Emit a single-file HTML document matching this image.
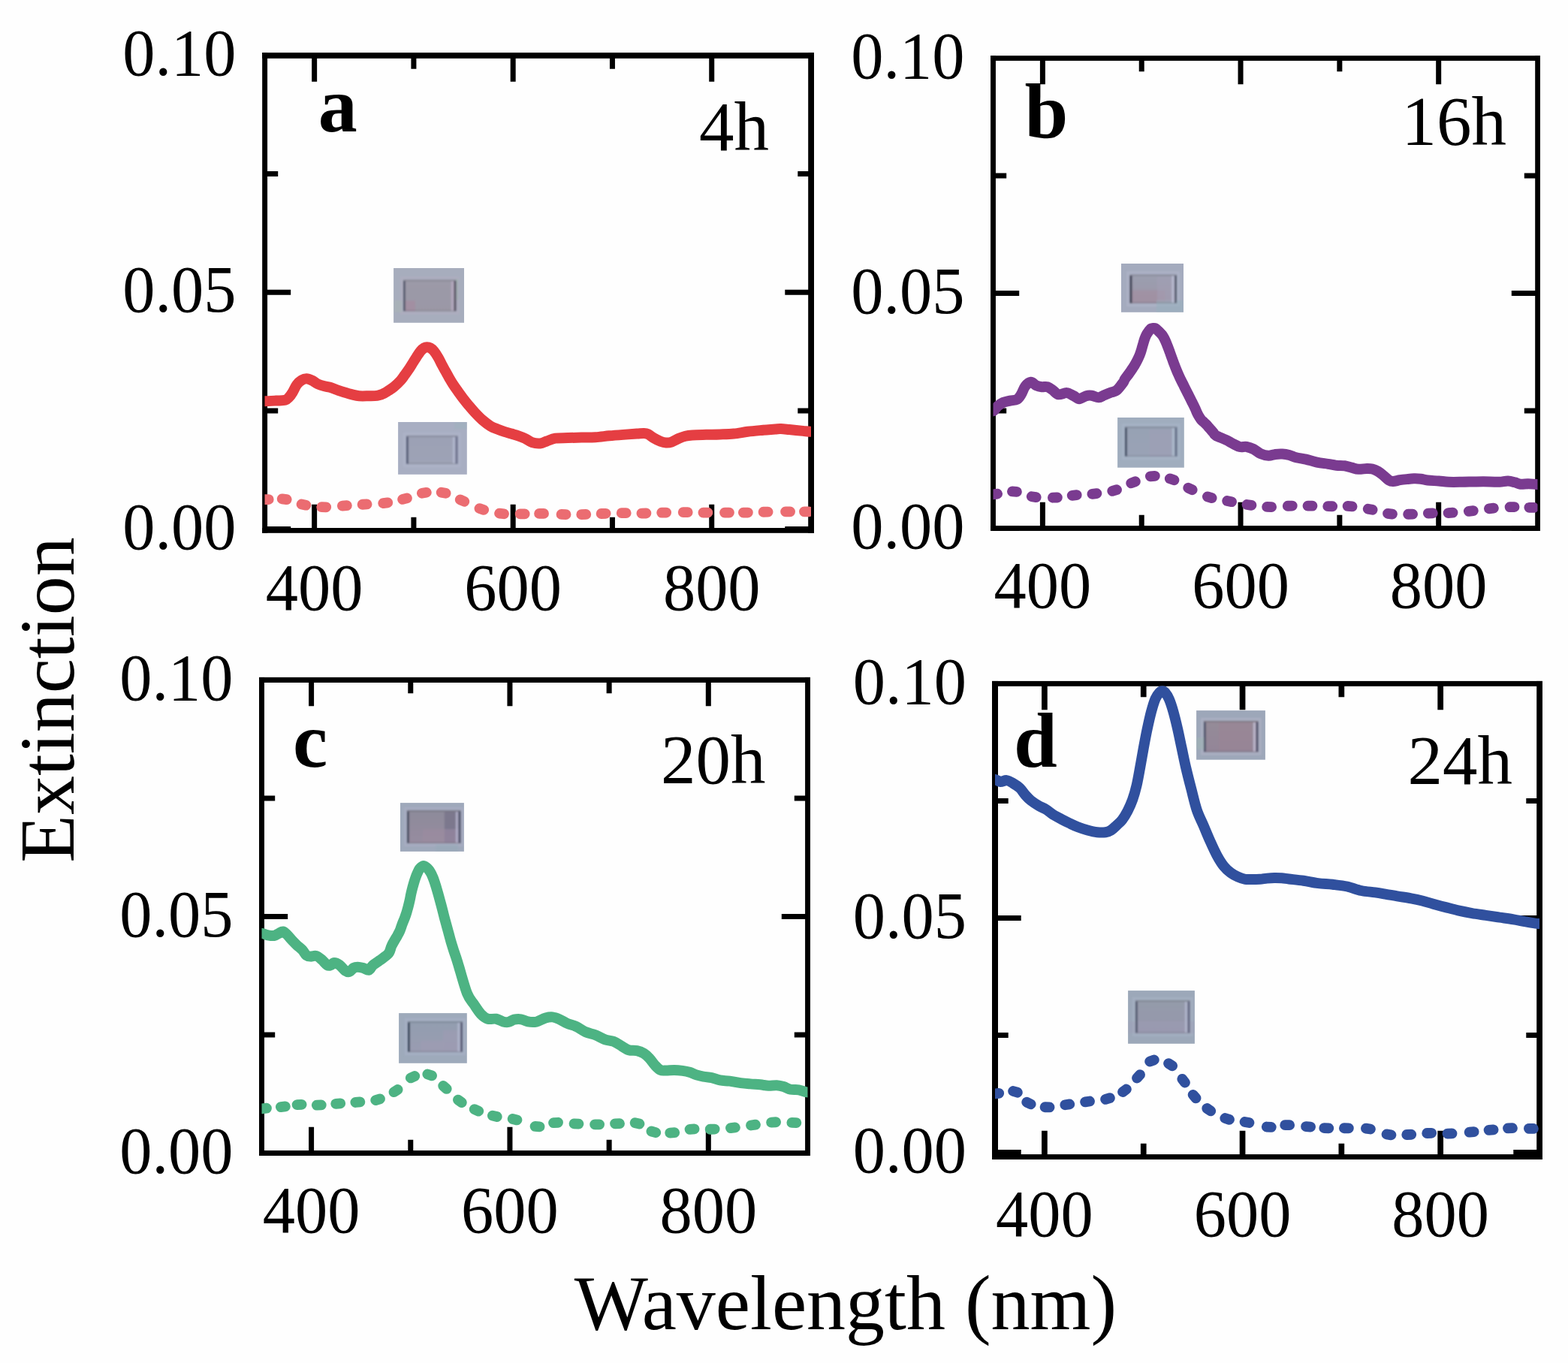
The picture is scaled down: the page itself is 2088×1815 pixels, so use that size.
<!DOCTYPE html>
<html lang="en">
<head>
<meta charset="utf-8">
<title>Extinction spectra</title>
<style>
html,body{margin:0;padding:0;background:#fefefe;}
body{width:2088px;height:1815px;overflow:hidden;}
svg{display:block;}
svg text{font-family:"Liberation Serif", "Times New Roman", serif;fill:#000;}
</style>
</head>
<body>
<svg xmlns="http://www.w3.org/2000/svg" width="2088" height="1815" viewBox="0 0 2088 1815">
<rect x="0" y="0" width="2088" height="1815" fill="#fefefe"/>
<defs>
<clipPath id="clipa"><rect x="352.50" y="74.00" width="727.50" height="632.50"/></clipPath>
<clipPath id="clipb"><rect x="1322.50" y="77.50" width="725.00" height="626.00"/></clipPath>
<clipPath id="clipc"><rect x="348.50" y="905.50" width="727.00" height="630.00"/></clipPath>
<clipPath id="clipd"><rect x="1325.00" y="910.50" width="725.00" height="630.00"/></clipPath>
</defs>
<g id="panel-a">
<path d="M418.64,706.50 v-34.70 M418.64,74.00 v34.70 M550.91,706.50 v-17.70 M550.91,74.00 v17.70 M683.18,706.50 v-34.70 M683.18,74.00 v34.70 M815.45,706.50 v-17.70 M815.45,74.00 v17.70 M947.73,706.50 v-34.70 M947.73,74.00 v34.70" stroke="#000" stroke-width="7.0" fill="none"/>
<path d="M352.50,704.50 h34.70 M1080.00,704.50 h-34.70 M352.50,546.88 h17.70 M1080.00,546.88 h-17.70 M352.50,389.25 h34.70 M1080.00,389.25 h-34.70 M352.50,231.62 h17.70 M1080.00,231.62 h-17.70" stroke="#000" stroke-width="7.0" fill="none"/>
<rect x="349.18" y="70.08" width="6.90" height="639.72" fill="#000"/>
<rect x="1076.20" y="70.08" width="7.80" height="639.72" fill="#000"/>
<rect x="349.18" y="70.08" width="734.82" height="7.75" fill="#000"/>
<rect x="349.18" y="703.00" width="734.82" height="6.80" fill="#000"/>
<g clip-path="url(#clipa)">
<path d="M340.16,534.26 C342.16,534.26 347.58,534.38 352.16,534.26 C356.74,534.14 363.06,533.77 367.64,533.52 C372.22,533.27 376.70,533.58 379.62,532.78 C382.54,531.98 383.46,530.48 385.15,528.73 C386.84,526.98 388.07,525.04 389.76,522.28 C391.45,519.51 393.29,514.81 395.29,512.14 C397.29,509.47 399.59,507.57 401.74,506.25 C403.89,504.93 405.89,504.16 408.19,504.22 C410.49,504.28 413.10,505.45 415.56,506.62 C418.02,507.79 420.17,509.93 422.93,511.22 C425.69,512.51 429.38,513.59 432.14,514.36 C434.90,515.13 436.45,514.91 439.52,515.83 C442.59,516.75 447.50,518.81 450.57,519.88 C453.64,520.95 454.87,521.36 457.94,522.28 C461.01,523.20 465.62,524.58 469.00,525.41 C472.38,526.24 474.53,526.95 478.22,527.26 C481.91,527.57 487.13,527.32 491.12,527.26 C495.11,527.20 499.10,527.32 502.17,526.89 C505.24,526.46 507.08,525.75 509.54,524.68 C512.00,523.61 514.46,521.98 516.92,520.44 C519.38,518.90 521.53,517.76 524.29,515.46 C527.05,513.16 531.04,509.32 533.50,506.62 C535.96,503.92 537.12,501.85 539.03,499.24 C540.93,496.63 543.09,493.71 544.93,490.95 C546.77,488.19 548.46,485.27 550.09,482.66 C551.72,480.05 553.01,477.84 554.70,475.29 C556.39,472.74 558.53,469.36 560.22,467.36 C561.91,465.36 563.45,464.17 564.83,463.31 C566.21,462.45 567.14,462.20 568.52,462.20 C569.90,462.20 571.59,462.45 573.12,463.31 C574.65,464.17 575.98,465.21 577.73,467.36 C579.48,469.51 581.79,473.05 583.63,476.21 C585.47,479.37 587.25,483.42 588.79,486.34 C590.32,489.26 591.31,490.96 592.84,493.72 C594.38,496.49 596.22,499.86 598.00,502.93 C599.78,506.00 601.53,509.07 603.53,512.14 C605.53,515.21 607.83,518.35 609.98,521.36 C612.13,524.37 614.13,527.19 616.43,530.20 C618.73,533.21 621.19,536.29 623.80,539.42 C626.41,542.55 629.03,545.71 632.10,549.00 C635.17,552.29 638.70,556.07 642.23,559.14 C645.76,562.21 649.91,565.37 653.29,567.43 C656.67,569.49 659.43,570.25 662.50,571.48 C665.57,572.71 668.65,573.78 671.72,574.80 C674.79,575.81 677.86,576.65 680.93,577.57 C684.00,578.49 687.08,579.26 690.15,580.33 C693.22,581.40 696.29,582.54 699.36,584.02 C702.43,585.50 705.27,588.10 708.58,589.18 C711.89,590.25 715.90,590.78 719.21,590.47 C722.52,590.16 725.05,588.47 728.43,587.33 C731.81,586.19 734.88,584.36 739.49,583.65 C744.10,582.94 750.24,583.28 756.07,583.09 C761.91,582.90 768.36,582.69 774.50,582.54 C780.64,582.39 786.79,582.54 792.93,582.17 C799.07,581.80 805.22,580.88 811.36,580.33 C817.50,579.78 823.65,579.32 829.79,578.86 C835.93,578.40 843.61,577.88 848.22,577.57 C852.83,577.26 854.97,576.92 857.43,577.01 C859.89,577.10 860.81,577.11 862.96,578.12 C865.11,579.13 867.57,581.49 870.33,583.09 C873.09,584.69 876.77,586.62 879.54,587.70 C882.30,588.78 884.46,589.39 886.92,589.54 C889.38,589.69 891.53,589.54 894.29,588.62 C897.05,587.70 900.43,585.34 903.50,584.02 C906.57,582.70 909.65,581.47 912.72,580.70 C915.79,579.93 917.32,579.72 921.93,579.41 C926.54,579.10 934.22,579.01 940.36,578.86 C946.50,578.71 952.65,578.71 958.79,578.49 C964.93,578.27 971.08,578.19 977.22,577.57 C983.36,576.96 989.51,575.57 995.65,574.80 C1001.79,574.03 1007.93,573.51 1014.07,572.96 C1020.21,572.41 1028.20,571.79 1032.50,571.48 C1036.80,571.17 1036.80,571.03 1039.87,571.12 C1042.94,571.21 1046.02,571.58 1050.93,572.04 C1055.85,572.50 1064.44,573.42 1069.36,573.88 C1074.27,574.34 1076.58,574.65 1080.42,574.80 C1084.26,574.95 1090.42,574.80 1092.42,574.80" stroke="#e53e42" stroke-width="14" fill="none" stroke-linejoin="round"/>
<path d="M351.74,665.15 L357.74,665.05 M375.73,664.31 L381.67,665.15 M401.56,671.52 L407.44,672.70 M428.22,675.17 L434.22,675.31 M455.88,673.60 L461.86,673.20 M482.60,671.75 L488.58,671.35 M510.26,670.12 L516.20,669.30 M536.13,664.94 L541.93,663.42 M561.86,656.72 L567.80,655.80 M587.69,655.66 L593.57,656.86 M612.75,665.40 L618.27,667.76 M638.46,677.06 L644.16,678.94 M665.05,683.55 L671.01,684.25 M692.68,684.45 L698.68,684.45 M718.06,683.87 L724.06,683.93 M747.54,684.95 L753.54,685.07 M774.26,685.07 L780.26,684.95 M800.62,684.00 L806.62,683.80 M827.71,683.18 L833.71,683.14 M854.43,683.56 L860.43,683.50 M881.15,682.69 L887.15,682.53 M909.72,682.06 L915.72,682.06 M936.44,682.58 L942.44,682.64 M965.00,682.61 L971.00,682.61 M989.88,682.66 L995.88,682.56 M1016.60,681.76 L1022.60,681.62 M1046.09,681.34 L1052.09,681.30 M1070.97,681.32 L1076.97,681.32" stroke="#eb6c71" stroke-width="13.8" stroke-linecap="round" fill="none"/>
</g>
<text transform="translate(314.50,730.50) scale(0.977,1)" font-size="88.5" text-anchor="end">0.00</text>
<text transform="translate(314.50,415.25) scale(0.977,1)" font-size="88.5" text-anchor="end">0.05</text>
<text transform="translate(314.50,100.00) scale(0.977,1)" font-size="88.5" text-anchor="end">0.10</text>
<text transform="translate(418.64,811.50) scale(0.977,1)" font-size="88.5" text-anchor="middle">400</text>
<text transform="translate(683.18,811.50) scale(0.977,1)" font-size="88.5" text-anchor="middle">600</text>
<text transform="translate(947.73,811.50) scale(0.977,1)" font-size="88.5" text-anchor="middle">800</text>
<text x="423.80" y="175.30" font-size="104" font-weight="bold" fill="#1d1d1b">a</text>
<text x="1024.00" y="199.60" font-size="93" text-anchor="end">4h</text>
</g>
<g id="panel-b">
<path d="M1388.41,703.50 v-34.70 M1388.41,77.50 v34.70 M1520.23,703.50 v-17.70 M1520.23,77.50 v17.70 M1652.05,703.50 v-34.70 M1652.05,77.50 v34.70 M1783.86,703.50 v-17.70 M1783.86,77.50 v17.70 M1915.68,703.50 v-34.70 M1915.68,77.50 v34.70" stroke="#000" stroke-width="7.0" fill="none"/>
<path d="M1322.50,703.50 h34.70 M2047.50,703.50 h-34.70 M1322.50,547.00 h17.70 M2047.50,547.00 h-17.70 M1322.50,390.50 h34.70 M2047.50,390.50 h-34.70 M1322.50,234.00 h17.70 M2047.50,234.00 h-17.70" stroke="#000" stroke-width="7.0" fill="none"/>
<rect x="1319.05" y="74.10" width="6.90" height="632.85" fill="#000"/>
<rect x="2044.20" y="74.10" width="6.80" height="632.85" fill="#000"/>
<rect x="1319.05" y="74.10" width="731.95" height="6.80" fill="#000"/>
<rect x="1319.05" y="700.05" width="731.95" height="6.90" fill="#000"/>
<g clip-path="url(#clipb)">
<path d="M1310.16,547.43 C1312.16,547.43 1319.12,548.50 1322.16,547.43 C1325.21,546.36 1326.16,542.88 1328.43,540.98 C1330.70,539.08 1333.04,537.23 1335.80,536.00 C1338.56,534.77 1341.94,534.32 1345.01,533.61 C1348.08,532.90 1351.77,533.15 1354.23,531.77 C1356.69,530.39 1357.92,528.24 1359.76,525.32 C1361.60,522.40 1363.14,517.02 1365.29,514.26 C1367.44,511.50 1370.20,508.88 1372.66,508.73 C1375.12,508.58 1377.57,512.27 1380.03,513.34 C1382.49,514.41 1384.94,514.87 1387.40,515.18 C1389.86,515.49 1392.31,514.41 1394.77,515.18 C1397.23,515.95 1399.68,518.10 1402.14,519.79 C1404.60,521.48 1406.45,524.77 1409.52,525.32 C1412.59,525.87 1417.19,522.79 1420.57,523.10 C1423.95,523.41 1427.02,525.81 1429.79,527.16 C1432.56,528.51 1434.40,531.21 1437.16,531.21 C1439.92,531.21 1443.61,527.90 1446.37,527.16 C1449.13,526.42 1450.97,526.42 1453.74,526.79 C1456.51,527.16 1460.20,529.46 1462.96,529.37 C1465.72,529.28 1467.57,527.38 1470.33,526.24 C1473.09,525.10 1476.77,523.62 1479.54,522.55 C1482.31,521.47 1484.28,521.93 1486.92,519.79 C1489.56,517.65 1493.57,512.12 1495.36,509.71 C1497.15,507.30 1496.91,506.57 1497.65,505.31 C1498.39,504.05 1498.95,503.34 1499.82,502.16 C1500.68,500.99 1501.81,499.66 1502.84,498.26 C1503.87,496.86 1505.04,495.17 1505.99,493.78 C1506.94,492.39 1507.72,491.22 1508.57,489.90 C1509.42,488.58 1510.24,487.32 1511.11,485.85 C1511.98,484.38 1513.00,482.59 1513.80,481.06 C1514.60,479.53 1515.23,478.22 1515.93,476.67 C1516.63,475.12 1517.39,473.42 1518.03,471.74 C1518.67,470.06 1519.23,468.28 1519.75,466.58 C1520.27,464.88 1520.69,463.20 1521.17,461.54 C1521.65,459.88 1522.14,458.19 1522.61,456.60 C1523.08,455.01 1523.52,453.41 1523.99,452.01 C1524.46,450.61 1524.89,449.43 1525.42,448.22 C1525.95,447.02 1526.50,445.89 1527.14,444.78 C1527.78,443.67 1528.54,442.58 1529.28,441.58 C1530.02,440.57 1530.95,439.42 1531.58,438.75 C1532.21,438.08 1532.39,437.85 1533.07,437.56 C1533.75,437.27 1534.89,437.11 1535.67,437.03 C1536.45,436.95 1537.12,436.89 1537.77,437.06 C1538.42,437.23 1538.82,437.45 1539.58,438.04 C1540.34,438.63 1541.36,439.66 1542.35,440.61 C1543.34,441.56 1544.61,442.75 1545.52,443.72 C1546.43,444.69 1547.10,445.42 1547.84,446.45 C1548.58,447.48 1549.29,448.68 1549.95,449.89 C1550.62,451.10 1551.22,452.40 1551.83,453.73 C1552.43,455.06 1553.00,456.43 1553.58,457.87 C1554.16,459.31 1554.76,460.88 1555.33,462.35 C1555.89,463.82 1556.43,465.25 1556.97,466.71 C1557.51,468.17 1558.02,469.63 1558.55,471.11 C1559.08,472.59 1559.61,474.06 1560.15,475.56 C1560.69,477.06 1561.23,478.60 1561.78,480.10 C1562.33,481.60 1562.87,483.10 1563.42,484.55 C1563.97,486.00 1564.47,487.30 1565.08,488.82 C1565.69,490.34 1566.41,492.13 1567.07,493.70 C1567.72,495.27 1568.35,496.75 1569.01,498.25 C1569.67,499.75 1570.30,501.17 1571.04,502.73 C1571.78,504.29 1572.68,506.10 1573.42,507.60 C1574.16,509.10 1574.83,510.36 1575.51,511.72 C1576.19,513.08 1576.86,514.41 1577.53,515.76 C1578.20,517.11 1578.88,518.45 1579.55,519.80 C1580.22,521.15 1580.90,522.49 1581.57,523.84 C1582.24,525.19 1582.91,526.53 1583.59,527.88 C1584.26,529.23 1584.94,530.58 1585.62,531.94 C1586.30,533.30 1587.00,534.67 1587.68,536.02 C1588.36,537.37 1589.01,538.60 1589.69,540.01 C1590.37,541.42 1591.11,542.98 1591.78,544.47 C1592.45,545.96 1592.97,547.42 1593.70,548.97 C1594.43,550.52 1595.16,552.13 1596.14,553.79 C1597.12,555.45 1598.39,557.47 1599.60,558.92 C1600.81,560.37 1602.21,561.38 1603.39,562.49 C1604.57,563.61 1605.59,564.47 1606.68,565.61 C1607.77,566.75 1608.89,568.16 1609.91,569.34 C1610.93,570.52 1611.78,571.51 1612.80,572.69 C1613.82,573.87 1615.01,575.22 1616.05,576.40 C1617.09,577.58 1616.28,578.24 1619.02,579.80 C1621.76,581.36 1628.72,583.94 1632.50,585.76 C1636.28,587.58 1638.65,589.20 1641.72,590.74 C1644.79,592.28 1647.86,594.27 1650.93,594.98 C1654.00,595.69 1657.08,594.46 1660.15,594.98 C1663.22,595.50 1666.29,596.58 1669.36,598.11 C1672.43,599.64 1675.27,602.75 1678.58,604.19 C1681.89,605.63 1685.90,606.65 1689.21,606.77 C1692.52,606.89 1695.36,605.30 1698.43,604.93 C1701.50,604.56 1704.57,604.38 1707.64,604.56 C1710.71,604.74 1713.79,605.26 1716.86,606.03 C1719.93,606.80 1722.38,608.25 1726.07,609.17 C1729.75,610.09 1734.36,610.48 1738.97,611.56 C1743.58,612.63 1748.81,614.58 1753.72,615.62 C1758.63,616.66 1764.16,617.16 1768.46,617.83 C1772.76,618.50 1775.84,619.27 1779.52,619.67 C1783.20,620.07 1787.19,619.73 1790.57,620.22 C1793.95,620.71 1796.72,621.85 1799.79,622.62 C1802.86,623.39 1805.62,624.62 1809.00,624.83 C1812.38,625.05 1816.99,623.97 1820.06,623.91 C1823.13,623.85 1824.97,623.85 1827.43,624.46 C1829.89,625.08 1832.34,626.16 1834.80,627.60 C1837.26,629.04 1839.71,631.12 1842.17,633.12 C1844.63,635.12 1847.39,638.25 1849.54,639.57 C1851.69,640.89 1852.61,641.11 1855.07,641.05 C1857.53,640.99 1861.22,639.70 1864.29,639.21 C1867.36,638.72 1870.43,638.41 1873.50,638.10 C1876.57,637.79 1879.65,637.42 1882.72,637.36 C1885.79,637.30 1888.86,637.36 1891.93,637.73 C1895.00,638.10 1897.16,639.11 1901.15,639.57 C1905.14,640.03 1911.28,640.13 1915.89,640.50 C1920.50,640.87 1923.57,641.57 1928.79,641.79 C1934.01,642.00 1941.08,641.85 1947.22,641.79 C1953.36,641.73 1959.51,641.48 1965.65,641.42 C1971.79,641.36 1978.85,641.36 1984.07,641.42 C1989.29,641.48 1992.98,641.94 1996.97,641.79 C2000.96,641.64 2004.65,640.41 2008.03,640.50 C2011.41,640.59 2014.49,641.63 2017.25,642.34 C2020.01,643.05 2021.55,644.42 2024.62,644.73 C2027.69,645.04 2032.00,644.12 2035.68,644.18 C2039.37,644.24 2042.89,644.95 2046.73,645.10 C2050.57,645.25 2056.73,645.10 2058.73,645.10" stroke="#7a3b90" stroke-width="14" fill="none" stroke-linejoin="round"/>
<path d="M1322.13,658.38 L1328.09,657.62 M1347.92,654.48 L1353.90,654.90 M1373.74,661.25 L1379.68,662.13 M1401.91,662.73 L1407.91,662.49 M1427.72,659.77 L1433.70,659.19 M1454.45,657.81 L1460.41,657.09 M1481.27,653.87 L1487.03,652.19 M1506.22,643.39 L1511.84,641.29 M1531.84,634.29 L1537.82,633.81 M1557.79,637.32 L1563.47,639.24 M1582.25,649.71 L1587.67,652.29 M1607.90,661.33 L1613.62,663.15 M1634.16,667.02 L1640.06,668.16 M1660.49,671.97 L1666.43,672.79 M1687.14,674.89 L1693.14,675.03 M1714.78,673.74 L1720.78,673.60 M1741.50,673.64 L1747.50,673.70 M1768.22,674.19 L1774.22,674.25 M1794.59,673.99 L1800.57,674.45 M1821.72,677.72 L1827.62,678.82 M1848.04,683.81 L1854.00,684.53 M1875.11,684.76 L1881.11,684.68 M1901.83,683.53 L1907.83,683.33 M1928.55,683.04 L1934.55,682.72 M1955.85,680.81 L1961.81,680.17 M1982.93,677.27 L1988.91,676.69 M2010.56,675.20 L2016.56,675.08 M2036.36,675.79 L2042.36,675.97" stroke="#7a3b90" stroke-width="13.8" stroke-linecap="round" fill="none"/>
</g>
<text transform="translate(1284.50,729.50) scale(0.977,1)" font-size="88.5" text-anchor="end">0.00</text>
<text transform="translate(1284.50,416.50) scale(0.977,1)" font-size="88.5" text-anchor="end">0.05</text>
<text transform="translate(1284.50,103.50) scale(0.977,1)" font-size="88.5" text-anchor="end">0.10</text>
<text transform="translate(1388.41,808.50) scale(0.977,1)" font-size="88.5" text-anchor="middle">400</text>
<text transform="translate(1652.05,808.50) scale(0.977,1)" font-size="88.5" text-anchor="middle">600</text>
<text transform="translate(1915.68,808.50) scale(0.977,1)" font-size="88.5" text-anchor="middle">800</text>
<text x="1364.50" y="182.50" font-size="104" font-weight="bold" fill="#1d1d1b">b</text>
<text x="2006.00" y="192.60" font-size="93" text-anchor="end">16h</text>
</g>
<g id="panel-c">
<path d="M414.59,1535.50 v-34.70 M414.59,905.50 v34.70 M546.77,1535.50 v-17.70 M546.77,905.50 v17.70 M678.95,1535.50 v-34.70 M678.95,905.50 v34.70 M811.14,1535.50 v-17.70 M811.14,905.50 v17.70 M943.32,1535.50 v-34.70 M943.32,905.50 v34.70" stroke="#000" stroke-width="7.0" fill="none"/>
<path d="M348.50,1535.50 h34.70 M1075.50,1535.50 h-34.70 M348.50,1378.00 h17.70 M1075.50,1378.00 h-17.70 M348.50,1220.50 h34.70 M1075.50,1220.50 h-34.70 M348.50,1063.00 h17.70 M1075.50,1063.00 h-17.70" stroke="#000" stroke-width="7.0" fill="none"/>
<rect x="345.00" y="901.90" width="7.00" height="637.10" fill="#000"/>
<rect x="1072.10" y="901.90" width="6.90" height="637.10" fill="#000"/>
<rect x="345.00" y="901.90" width="734.00" height="7.10" fill="#000"/>
<rect x="345.00" y="1532.00" width="734.00" height="7.00" fill="#000"/>
<g clip-path="url(#clipc)">
<path d="M336.48,1242.85 C338.48,1242.85 345.13,1242.45 348.48,1242.85 C351.83,1243.25 353.86,1244.73 356.59,1245.25 C359.32,1245.77 362.42,1246.39 364.88,1245.99 C367.34,1245.59 369.33,1243.77 371.33,1242.85 C373.33,1241.93 375.02,1240.15 376.86,1240.46 C378.70,1240.77 380.39,1242.77 382.39,1244.70 C384.39,1246.63 386.69,1249.77 388.84,1252.07 C390.99,1254.37 392.99,1256.37 395.29,1258.52 C397.59,1260.67 400.51,1262.67 402.66,1264.97 C404.81,1267.27 406.35,1270.90 408.19,1272.34 C410.03,1273.78 411.57,1273.54 413.72,1273.63 C415.87,1273.72 418.63,1272.18 421.09,1272.89 C423.55,1273.60 426.00,1275.81 428.46,1277.87 C430.92,1279.93 433.83,1284.01 435.83,1285.24 C437.83,1286.47 438.90,1285.76 440.44,1285.24 C441.98,1284.72 443.04,1282.11 445.04,1282.11 C447.04,1282.11 449.96,1283.49 452.42,1285.24 C454.88,1286.99 457.64,1291.17 459.79,1292.61 C461.94,1294.05 463.48,1294.52 465.32,1293.90 C467.16,1293.29 469.00,1289.97 470.84,1288.92 C472.68,1287.88 474.22,1287.63 476.37,1287.63 C478.52,1287.63 481.28,1288.24 483.74,1288.92 C486.20,1289.60 488.97,1292.30 491.12,1291.69 C493.27,1291.08 494.29,1287.33 496.64,1285.24 C498.99,1283.15 501.77,1281.78 505.22,1279.18 C508.67,1276.59 514.59,1273.03 517.34,1269.67 C520.09,1266.31 519.71,1263.02 521.71,1259.00 C523.71,1254.98 527.63,1248.63 529.34,1245.55 C531.05,1242.47 531.23,1242.15 531.98,1240.52 C532.73,1238.88 533.27,1237.30 533.84,1235.74 C534.41,1234.18 534.89,1232.59 535.41,1231.14 C535.93,1229.70 536.38,1228.56 536.97,1227.07 C537.57,1225.58 538.34,1223.87 538.98,1222.20 C539.62,1220.53 540.25,1218.74 540.81,1217.03 C541.37,1215.32 541.84,1213.61 542.32,1211.93 C542.80,1210.25 543.25,1208.61 543.68,1206.94 C544.11,1205.27 544.53,1203.60 544.93,1201.92 C545.32,1200.24 545.71,1198.53 546.05,1196.88 C546.39,1195.23 546.64,1193.62 546.97,1192.03 C547.30,1190.44 547.63,1188.92 548.00,1187.37 C548.37,1185.81 548.75,1184.27 549.16,1182.70 C549.57,1181.13 550.01,1179.55 550.47,1177.96 C550.93,1176.37 551.43,1174.67 551.90,1173.18 C552.37,1171.69 552.79,1170.40 553.27,1169.03 C553.75,1167.66 554.23,1166.35 554.80,1164.96 C555.37,1163.57 556.05,1161.99 556.67,1160.70 C557.29,1159.41 557.90,1158.15 558.54,1157.20 C559.18,1156.25 559.77,1155.64 560.50,1155.01 C561.23,1154.38 562.27,1153.74 562.89,1153.40 C563.51,1153.06 563.76,1152.97 564.21,1152.98 C564.66,1152.99 564.94,1153.07 565.58,1153.45 C566.23,1153.83 567.25,1154.51 568.08,1155.24 C568.91,1155.97 569.77,1156.86 570.57,1157.81 C571.37,1158.76 572.18,1159.88 572.86,1160.95 C573.54,1162.02 574.09,1163.01 574.68,1164.23 C575.27,1165.45 575.87,1166.90 576.42,1168.25 C576.97,1169.60 577.50,1170.96 577.98,1172.32 C578.46,1173.68 578.86,1174.99 579.32,1176.43 C579.78,1177.87 580.26,1179.39 580.73,1180.94 C581.20,1182.49 581.72,1184.21 582.16,1185.70 C582.60,1187.19 582.95,1188.43 583.35,1189.86 C583.75,1191.29 584.15,1192.78 584.55,1194.27 C584.95,1195.76 585.36,1197.29 585.76,1198.77 C586.16,1200.25 586.57,1201.71 586.97,1203.17 C587.37,1204.63 587.77,1206.05 588.17,1207.55 C588.57,1209.05 588.96,1210.58 589.36,1212.17 C589.76,1213.76 590.16,1215.47 590.57,1217.10 C590.98,1218.73 591.39,1220.37 591.80,1221.93 C592.21,1223.49 592.62,1224.98 593.03,1226.47 C593.44,1227.96 593.85,1229.40 594.25,1230.87 C594.65,1232.34 595.06,1233.82 595.46,1235.30 C595.86,1236.78 596.27,1238.26 596.67,1239.74 C597.07,1241.22 597.48,1242.69 597.87,1244.15 C598.26,1245.61 598.62,1247.00 599.03,1248.51 C599.44,1250.02 599.86,1251.53 600.34,1253.19 C600.82,1254.85 601.42,1256.84 601.91,1258.45 C602.40,1260.06 602.76,1261.23 603.27,1262.83 C603.77,1264.42 604.39,1266.35 604.94,1268.02 C605.49,1269.69 606.02,1271.23 606.56,1272.83 C607.10,1274.43 607.66,1276.08 608.16,1277.63 C608.66,1279.19 609.10,1280.62 609.57,1282.16 C610.04,1283.70 608.93,1280.09 611.00,1286.84 C613.07,1293.59 618.60,1314.23 621.96,1322.66 C625.32,1331.09 628.10,1332.79 631.17,1337.40 C634.24,1342.01 637.32,1347.08 640.39,1350.30 C643.46,1353.52 646.22,1355.67 649.60,1356.75 C652.98,1357.83 657.28,1356.13 660.66,1356.75 C664.04,1357.37 667.11,1359.73 669.87,1360.44 C672.63,1361.15 674.79,1361.45 677.25,1360.99 C679.71,1360.53 681.86,1358.29 684.62,1357.67 C687.38,1357.06 690.76,1356.84 693.83,1357.30 C696.90,1357.76 699.98,1359.83 703.05,1360.44 C706.12,1361.06 709.87,1361.14 712.26,1360.99 C714.65,1360.84 714.98,1360.44 717.37,1359.52 C719.76,1358.60 723.52,1356.32 726.59,1355.46 C729.66,1354.60 732.73,1354.05 735.80,1354.36 C738.87,1354.67 741.63,1355.83 745.01,1357.30 C748.39,1358.77 752.38,1361.60 756.07,1363.20 C759.76,1364.80 763.14,1365.05 767.13,1366.89 C771.12,1368.73 775.73,1372.36 780.03,1374.26 C784.33,1376.16 788.63,1376.62 792.93,1378.31 C797.23,1380.00 801.84,1382.98 805.83,1384.39 C809.82,1385.80 813.20,1385.35 816.89,1386.79 C820.58,1388.23 824.56,1391.15 827.94,1393.06 C831.32,1394.96 833.78,1397.21 837.16,1398.22 C840.54,1399.23 844.84,1398.37 848.22,1399.14 C851.60,1399.91 854.67,1401.13 857.43,1402.82 C860.19,1404.51 862.34,1406.66 864.80,1409.27 C867.26,1411.88 869.71,1415.88 872.17,1418.49 C874.63,1421.10 877.08,1423.77 879.54,1424.94 C882.00,1426.11 883.85,1425.49 886.92,1425.49 C889.99,1425.49 894.29,1424.88 897.97,1424.94 C901.65,1425.00 905.65,1425.40 909.03,1425.86 C912.41,1426.32 915.18,1426.78 918.25,1427.70 C921.32,1428.62 924.39,1430.41 927.46,1431.39 C930.53,1432.37 933.29,1432.99 936.67,1433.60 C940.05,1434.21 944.04,1434.27 947.73,1435.07 C951.42,1435.87 954.80,1437.62 958.79,1438.39 C962.78,1439.16 967.08,1439.07 971.69,1439.68 C976.30,1440.30 981.82,1441.46 986.43,1442.08 C991.04,1442.69 995.03,1443.00 999.33,1443.37 C1003.63,1443.74 1008.24,1443.89 1012.23,1444.29 C1016.22,1444.69 1019.60,1445.61 1023.29,1445.76 C1026.98,1445.91 1030.97,1445.00 1034.35,1445.21 C1037.73,1445.42 1040.49,1446.13 1043.56,1447.05 C1046.63,1447.97 1049.40,1450.03 1052.78,1450.74 C1056.16,1451.45 1060.14,1450.68 1063.83,1451.29 C1067.51,1451.90 1071.05,1453.90 1074.89,1454.42 C1078.73,1454.94 1084.89,1454.42 1086.89,1454.42" stroke="#4db383" stroke-width="14" fill="none" stroke-linejoin="round"/>
<path d="M348.99,1476.26 L354.97,1475.72 M373.88,1474.09 L379.84,1473.45 M395.60,1471.15 L401.60,1470.87 M421.77,1471.65 L427.77,1471.47 M447.21,1469.76 L453.19,1469.32 M473.39,1467.99 L479.35,1467.39 M500.22,1465.05 L505.96,1463.33 M524.53,1454.21 L529.57,1450.95 M546.82,1435.42 L552.26,1432.88 M569.34,1430.47 L575.06,1432.31 M590.21,1446.00 L594.73,1449.94 M609.95,1464.64 L614.81,1468.16 M631.73,1477.20 L637.25,1479.56 M655.90,1485.60 L661.74,1487.02 M682.63,1490.02 L688.45,1491.44 M712.54,1499.90 L718.52,1500.36 M737.05,1495.18 L743.03,1494.76 M764.50,1496.31 L770.50,1496.57 M792.14,1497.37 L798.14,1497.35 M819.05,1496.34 L825.05,1496.18 M845.66,1495.22 L851.50,1496.56 M867.43,1506.53 L873.23,1508.09 M892.22,1508.63 L898.20,1508.21 M918.57,1503.90 L924.55,1503.36 M945.65,1503.73 L951.65,1503.53 M972.95,1502.09 L978.91,1501.49 M1000.05,1498.50 L1005.99,1497.70 M1027.11,1494.58 L1033.11,1494.24 M1054.38,1494.91 L1060.38,1495.03" stroke="#4db383" stroke-width="13.8" stroke-linecap="round" fill="none"/>
</g>
<text transform="translate(310.50,1561.50) scale(0.977,1)" font-size="88.5" text-anchor="end">0.00</text>
<text transform="translate(310.50,1246.50) scale(0.977,1)" font-size="88.5" text-anchor="end">0.05</text>
<text transform="translate(310.50,931.50) scale(0.977,1)" font-size="88.5" text-anchor="end">0.10</text>
<text transform="translate(414.59,1640.50) scale(0.977,1)" font-size="88.5" text-anchor="middle">400</text>
<text transform="translate(678.95,1640.50) scale(0.977,1)" font-size="88.5" text-anchor="middle">600</text>
<text transform="translate(943.32,1640.50) scale(0.977,1)" font-size="88.5" text-anchor="middle">800</text>
<text x="390.00" y="1021.00" font-size="104" font-weight="bold" fill="#1d1d1b">c</text>
<text x="1019.40" y="1043.30" font-size="93" text-anchor="end">20h</text>
</g>
<g id="panel-d">
<path d="M1390.91,1540.50 v-34.70 M1390.91,910.50 v34.70 M1522.73,1540.50 v-17.70 M1522.73,910.50 v17.70 M1654.55,1540.50 v-34.70 M1654.55,910.50 v34.70 M1786.36,1540.50 v-17.70 M1786.36,910.50 v17.70 M1918.18,1540.50 v-34.70 M1918.18,910.50 v34.70" stroke="#000" stroke-width="7.7" fill="none"/>
<path d="M1325.00,1534.50 h34.70 M2050.00,1534.50 h-34.70 M1325.00,1378.50 h17.70 M2050.00,1378.50 h-17.70 M1325.00,1222.50 h34.70 M2050.00,1222.50 h-34.70 M1325.00,1066.50 h17.70 M2050.00,1066.50 h-17.70" stroke="#000" stroke-width="7.0" fill="none"/>
<rect x="1321.00" y="906.92" width="8.00" height="637.08" fill="#000"/>
<rect x="2046.20" y="906.92" width="7.80" height="637.08" fill="#000"/>
<rect x="1321.00" y="906.92" width="733.00" height="6.95" fill="#000"/>
<rect x="1321.00" y="1537.10" width="733.00" height="6.90" fill="#000"/>
<g clip-path="url(#clipd)">
<path d="M1312.74,1037.85 C1314.74,1037.85 1321.51,1037.33 1324.74,1037.85 C1327.97,1038.37 1329.50,1040.76 1332.11,1040.98 C1334.72,1041.20 1337.64,1038.83 1340.41,1039.14 C1343.18,1039.45 1345.78,1041.13 1348.70,1042.82 C1351.62,1044.51 1355.14,1046.66 1357.91,1049.27 C1360.68,1051.88 1362.83,1055.72 1365.29,1058.49 C1367.75,1061.26 1369.59,1063.40 1372.66,1065.86 C1375.73,1068.32 1380.34,1071.23 1383.72,1073.23 C1387.10,1075.23 1389.86,1075.93 1392.93,1077.84 C1396.00,1079.74 1398.76,1082.51 1402.14,1084.66 C1405.52,1086.81 1409.51,1088.81 1413.20,1090.74 C1416.89,1092.67 1420.57,1094.52 1424.26,1096.27 C1427.95,1098.02 1431.33,1099.70 1435.32,1101.24 C1439.31,1102.78 1443.92,1104.31 1448.22,1105.48 C1452.52,1106.65 1457.13,1107.79 1461.12,1108.25 C1465.11,1108.71 1469.10,1108.71 1472.17,1108.25 C1475.24,1107.79 1477.08,1107.02 1479.54,1105.48 C1482.00,1103.94 1484.46,1101.33 1486.92,1099.03 C1489.38,1096.73 1491.83,1094.88 1494.29,1091.66 C1496.75,1088.44 1499.36,1084.13 1501.66,1079.68 C1503.96,1075.23 1506.11,1070.62 1508.11,1064.94 C1510.11,1059.26 1511.95,1052.81 1513.64,1045.59 C1515.33,1038.37 1516.72,1029.92 1518.25,1021.63 C1519.78,1013.34 1521.31,1004.12 1522.85,995.83 C1524.38,987.54 1525.77,979.86 1527.46,971.87 C1529.15,963.88 1531.15,954.82 1532.99,947.91 C1534.83,941.00 1536.68,934.71 1538.52,930.41 C1540.36,926.11 1542.51,923.80 1544.05,922.11 C1545.59,920.42 1546.50,920.27 1547.73,920.27 C1548.96,920.27 1549.88,920.27 1551.42,922.11 C1552.96,923.95 1555.11,927.03 1556.95,931.33 C1558.79,935.63 1560.63,941.46 1562.47,947.91 C1564.31,954.36 1566.16,962.04 1568.00,970.03 C1569.84,978.02 1571.69,987.23 1573.53,995.83 C1575.37,1004.43 1576.91,1012.41 1579.06,1021.63 C1581.21,1030.85 1583.97,1041.60 1586.43,1051.12 C1588.89,1060.64 1591.05,1070.61 1593.80,1078.76 C1596.55,1086.91 1600.02,1093.23 1602.91,1100.00 C1605.80,1106.77 1608.24,1112.93 1611.15,1119.40 C1614.06,1125.87 1617.30,1133.14 1620.37,1138.80 C1623.44,1144.46 1626.51,1149.47 1629.58,1153.35 C1632.65,1157.23 1635.65,1159.70 1638.80,1162.08 C1641.95,1164.45 1645.27,1166.14 1648.50,1167.60 C1651.73,1169.05 1654.97,1170.26 1658.20,1170.81 C1661.43,1171.36 1664.67,1170.90 1667.90,1170.90 C1671.13,1170.90 1674.36,1171.02 1677.59,1170.81 C1680.82,1170.60 1684.06,1169.93 1687.29,1169.64 C1690.52,1169.35 1693.76,1169.11 1696.99,1169.06 C1700.22,1169.01 1703.46,1169.11 1706.69,1169.35 C1709.92,1169.59 1711.54,1169.94 1716.39,1170.51 C1721.24,1171.08 1729.32,1171.80 1735.79,1172.74 C1742.26,1173.68 1748.72,1175.30 1755.19,1176.14 C1761.66,1176.98 1768.12,1177.06 1774.59,1177.79 C1781.06,1178.52 1787.64,1179.13 1793.99,1180.50 C1800.34,1181.87 1806.50,1184.69 1812.69,1186.01 C1818.88,1187.33 1825.59,1187.61 1831.12,1188.41 C1836.65,1189.21 1840.95,1189.98 1845.86,1190.81 C1850.77,1191.64 1855.07,1192.47 1860.60,1193.39 C1866.13,1194.31 1873.50,1195.32 1879.03,1196.33 C1884.56,1197.34 1888.86,1198.24 1893.77,1199.47 C1898.68,1200.70 1903.30,1202.27 1908.52,1203.71 C1913.74,1205.15 1919.57,1206.69 1925.10,1208.13 C1930.63,1209.57 1935.85,1211.05 1941.69,1212.37 C1947.53,1213.69 1953.98,1214.97 1960.12,1216.05 C1966.26,1217.12 1972.41,1217.90 1978.55,1218.82 C1984.69,1219.74 1990.83,1220.66 1996.97,1221.58 C2003.11,1222.50 2009.87,1223.43 2015.40,1224.35 C2020.93,1225.27 2024.93,1226.19 2030.15,1227.11 C2035.37,1228.03 2041.97,1229.41 2046.73,1229.87 C2051.49,1230.33 2056.73,1229.87 2058.73,1229.87" stroke="#30509e" stroke-width="14" fill="none" stroke-linejoin="round"/>
<path d="M1324.19,1456.47 L1330.17,1455.91 M1349.11,1452.98 L1354.85,1454.72 M1367.25,1467.78 L1372.65,1470.38 M1391.55,1474.26 L1397.55,1474.46 M1418.33,1471.25 L1424.27,1470.43 M1445.09,1467.36 L1451.03,1466.50 M1472.12,1463.88 L1477.88,1462.18 M1495.03,1454.05 L1499.89,1450.53 M1513.98,1435.56 L1518.04,1431.14 M1531.16,1413.48 L1536.80,1411.42 M1556.05,1416.12 L1561.11,1419.34 M1574.34,1436.82 L1577.96,1441.60 M1588.63,1457.84 L1592.57,1462.36 M1607.27,1475.97 L1612.21,1479.37 M1631.30,1489.04 L1637.00,1490.92 M1657.56,1493.90 L1663.46,1495.04 M1686.77,1500.51 L1692.75,1500.93 M1711.17,1498.20 L1717.17,1498.16 M1739.11,1500.09 L1745.09,1500.57 M1763.31,1502.16 L1769.31,1502.40 M1789.87,1502.24 L1795.87,1502.32 M1818.99,1502.61 L1824.93,1503.51 M1846.52,1510.44 L1852.46,1511.30 M1873.25,1510.98 L1879.25,1510.76 M1900.19,1509.00 L1906.19,1508.84 M1927.53,1509.58 L1933.53,1509.42 M1956.64,1507.62 L1962.62,1507.10 M1982.61,1504.92 L1988.59,1504.32 M2007.98,1502.38 L2013.98,1502.18 M2035.91,1502.80 L2041.91,1502.92" stroke="#30509e" stroke-width="13.8" stroke-linecap="round" fill="none"/>
</g>
<text transform="translate(1287.00,1560.50) scale(0.977,1)" font-size="88.5" text-anchor="end">0.00</text>
<text transform="translate(1287.00,1248.50) scale(0.977,1)" font-size="88.5" text-anchor="end">0.05</text>
<text transform="translate(1287.00,936.50) scale(0.977,1)" font-size="88.5" text-anchor="end">0.10</text>
<text transform="translate(1390.91,1645.50) scale(0.977,1)" font-size="88.5" text-anchor="middle">400</text>
<text transform="translate(1654.55,1645.50) scale(0.977,1)" font-size="88.5" text-anchor="middle">600</text>
<text transform="translate(1918.18,1645.50) scale(0.977,1)" font-size="88.5" text-anchor="middle">800</text>
<text x="1350.00" y="1021.00" font-size="104" font-weight="bold" fill="#1d1d1b">d</text>
<text x="2014.00" y="1044.00" font-size="93" text-anchor="end">24h</text>
</g>
<defs><filter id="soft" x="-10%" y="-10%" width="120%" height="120%"><feGaussianBlur stdDeviation="0.9"/></filter>
<linearGradient id="ga1" x1="0" y1="0" x2="0" y2="1"><stop offset="0" stop-color="#9c9aa8"/><stop offset="1" stop-color="#9b98a6"/></linearGradient>
<clipPath id="ca1"><rect x="524.10" y="357.00" width="93.90" height="72.80"/></clipPath>
<linearGradient id="ga2" x1="0" y1="0" x2="0" y2="1"><stop offset="0" stop-color="#9ca1b5"/><stop offset="1" stop-color="#9ea3b6"/></linearGradient>
<clipPath id="ca2"><rect x="530.10" y="562.00" width="91.70" height="69.80"/></clipPath>
<linearGradient id="gb1" x1="0" y1="0" x2="0" y2="1"><stop offset="0" stop-color="#9b9fb0"/><stop offset="1" stop-color="#9d95a7"/></linearGradient>
<clipPath id="cb1"><rect x="1493.00" y="351.00" width="83.00" height="64.80"/></clipPath>
<linearGradient id="gb2" x1="0" y1="0" x2="0" y2="1"><stop offset="0" stop-color="#97a2b4"/><stop offset="1" stop-color="#9aa2b6"/></linearGradient>
<clipPath id="cb2"><rect x="1488.10" y="556.00" width="88.70" height="66.70"/></clipPath>
<linearGradient id="gc1" x1="0" y1="0" x2="0" y2="1"><stop offset="0" stop-color="#8d8b9a"/><stop offset="1" stop-color="#978ca0"/></linearGradient>
<clipPath id="cc1"><rect x="533.00" y="1069.10" width="84.90" height="64.80"/></clipPath>
<linearGradient id="gc2" x1="0" y1="0" x2="0" y2="1"><stop offset="0" stop-color="#929eb0"/><stop offset="1" stop-color="#9a9cb1"/></linearGradient>
<clipPath id="cc2"><rect x="531.10" y="1349.10" width="90.70" height="66.70"/></clipPath>
<linearGradient id="gd1" x1="0" y1="0" x2="0" y2="1"><stop offset="0" stop-color="#958c98"/><stop offset="1" stop-color="#938598"/></linearGradient>
<clipPath id="cd1"><rect x="1593.10" y="946.10" width="91.80" height="65.60"/></clipPath>
<linearGradient id="gd2" x1="0" y1="0" x2="0" y2="1"><stop offset="0" stop-color="#949baa"/><stop offset="1" stop-color="#9797ad"/></linearGradient>
<clipPath id="cd2"><rect x="1502.10" y="1319.10" width="88.80" height="70.70"/></clipPath>
</defs>
<g id="inset-a1">
<rect x="524.10" y="357.00" width="93.90" height="72.80" fill="#a7adbd"/>
<g clip-path="url(#ca1)"><g filter="url(#soft)">
<rect x="534.50" y="370.00" width="75.50" height="47.10" fill="none" stroke="#b9abc2" stroke-opacity="0.35" stroke-width="3"/>
<rect x="537.00" y="372.50" width="70.50" height="42.10" fill="url(#ga1)"/>
<rect x="539.00" y="400.30" width="14.00" height="14.00" fill="#a8889f" fill-opacity="0.55"/>
<rect x="524.50" y="400.00" width="11.00" height="16.00" fill="#a9b5b4" fill-opacity="0.50"/>
<rect x="606.50" y="371.50" width="4.00" height="28.00" fill="#9fb0ad" fill-opacity="0.60"/>
<rect x="537.00" y="372.50" width="70.50" height="2.2" fill="#000" fill-opacity="0.10"/>
<rect x="537.00" y="412.60" width="70.50" height="2.0" fill="#000" fill-opacity="0.08"/>
<rect x="600.90" y="374.50" width="3.0" height="39.10" fill="#b9abc2" fill-opacity="0.85"/>
<rect x="537.00" y="374.00" width="3.0" height="40.10" fill="#5b5e72"/>
<rect x="604.50" y="374.00" width="3.0" height="40.10" fill="#5e5a6b"/>
</g></g></g>
<g id="inset-a2">
<rect x="530.10" y="562.00" width="91.70" height="69.80" fill="#a8aec2"/>
<g clip-path="url(#ca2)"><g filter="url(#soft)">
<rect x="538.50" y="577.50" width="73.50" height="43.00" fill="none" stroke="#b4bad0" stroke-opacity="0.35" stroke-width="3"/>
<rect x="541.00" y="580.00" width="68.50" height="38.00" fill="url(#ga2)"/>
<rect x="605.00" y="562.00" width="16.80" height="9.50" fill="#9fb0bd" fill-opacity="0.70"/>
<rect x="541.00" y="580.00" width="68.50" height="2.2" fill="#000" fill-opacity="0.10"/>
<rect x="541.00" y="616.00" width="68.50" height="2.0" fill="#000" fill-opacity="0.08"/>
<rect x="602.90" y="582.00" width="3.0" height="35.00" fill="#b4bad0" fill-opacity="0.85"/>
<rect x="541.00" y="581.50" width="3.0" height="36.00" fill="#5a607a"/>
<rect x="606.50" y="581.50" width="3.0" height="36.00" fill="#6f7590"/>
</g></g></g>
<g id="inset-b1">
<rect x="1493.00" y="351.00" width="83.00" height="64.80" fill="#a4abbe"/>
<g clip-path="url(#cb1)"><g filter="url(#soft)">
<rect x="1502.00" y="363.00" width="67.50" height="43.50" fill="none" stroke="#bcc0d6" stroke-opacity="0.35" stroke-width="3"/>
<rect x="1504.50" y="365.50" width="62.50" height="38.50" fill="url(#gb1)"/>
<rect x="1507.60" y="386.50" width="44.00" height="16.50" fill="#a48c9e" fill-opacity="0.50"/>
<rect x="1540.00" y="400.00" width="36.00" height="15.80" fill="#97b0bd" fill-opacity="0.55"/>
<rect x="1541.00" y="368.00" width="20.00" height="34.00" fill="#a39fb6" fill-opacity="0.50"/>
<rect x="1504.50" y="365.50" width="62.50" height="2.2" fill="#000" fill-opacity="0.10"/>
<rect x="1504.50" y="402.00" width="62.50" height="2.0" fill="#000" fill-opacity="0.08"/>
<rect x="1560.40" y="367.50" width="3.0" height="35.50" fill="#bcc0d6" fill-opacity="0.85"/>
<rect x="1504.50" y="367.00" width="3.0" height="36.50" fill="#3f4354"/>
<rect x="1564.00" y="367.00" width="3.0" height="36.50" fill="#5d6275"/>
</g></g></g>
<g id="inset-b2">
<rect x="1488.10" y="556.00" width="88.70" height="66.70" fill="#a0adbe"/>
<g clip-path="url(#cb2)"><g filter="url(#soft)">
<rect x="1495.50" y="565.50" width="74.50" height="45.00" fill="none" stroke="#b0bdd0" stroke-opacity="0.35" stroke-width="3"/>
<rect x="1498.00" y="568.00" width="69.50" height="40.00" fill="url(#gb2)"/>
<rect x="1531.00" y="572.00" width="29.00" height="36.00" fill="#9e9fb6" fill-opacity="0.60"/>
<rect x="1498.00" y="568.00" width="69.50" height="2.2" fill="#000" fill-opacity="0.10"/>
<rect x="1498.00" y="606.00" width="69.50" height="2.0" fill="#000" fill-opacity="0.08"/>
<rect x="1560.90" y="570.00" width="3.0" height="37.00" fill="#b0bdd0" fill-opacity="0.85"/>
<rect x="1498.00" y="569.50" width="3.0" height="38.00" fill="#4c596c"/>
<rect x="1564.50" y="569.50" width="3.0" height="38.00" fill="#66738a"/>
</g></g></g>
<g id="inset-c1">
<rect x="533.00" y="1069.10" width="84.90" height="64.80" fill="#9fa9bb"/>
<g clip-path="url(#cc1)"><g filter="url(#soft)">
<rect x="539.50" y="1076.50" width="76.50" height="49.00" fill="none" stroke="#b5b3cc" stroke-opacity="0.35" stroke-width="3"/>
<rect x="542.00" y="1079.00" width="71.50" height="44.00" fill="url(#gc1)"/>
<rect x="591.80" y="1081.00" width="19.00" height="23.00" fill="#6f6c84" fill-opacity="0.62"/>
<rect x="591.80" y="1104.00" width="19.00" height="18.00" fill="#8a7a98" fill-opacity="0.50"/>
<rect x="563.00" y="1104.00" width="29.00" height="18.00" fill="#9d8ba0" fill-opacity="0.50"/>
<rect x="580.00" y="1125.00" width="30.00" height="8.90" fill="#95a9b8" fill-opacity="0.50"/>
<rect x="542.00" y="1079.00" width="71.50" height="2.2" fill="#000" fill-opacity="0.10"/>
<rect x="542.00" y="1121.00" width="71.50" height="2.0" fill="#000" fill-opacity="0.08"/>
<rect x="606.90" y="1081.00" width="3.0" height="41.00" fill="#b5b3cc" fill-opacity="0.85"/>
<rect x="542.00" y="1080.50" width="3.0" height="42.00" fill="#4f5366"/>
<rect x="610.50" y="1080.50" width="3.0" height="42.00" fill="#545871"/>
</g></g></g>
<g id="inset-c2">
<rect x="531.10" y="1349.10" width="90.70" height="66.70" fill="#9eaabb"/>
<g clip-path="url(#cc2)"><g filter="url(#soft)">
<rect x="540.50" y="1357.50" width="78.00" height="46.00" fill="none" stroke="#b3b8d0" stroke-opacity="0.35" stroke-width="3"/>
<rect x="543.00" y="1360.00" width="73.00" height="41.00" fill="url(#gc2)"/>
<rect x="590.00" y="1372.00" width="24.00" height="28.00" fill="#9f9bb2" fill-opacity="0.60"/>
<rect x="561.00" y="1386.00" width="30.00" height="14.00" fill="#a09cb3" fill-opacity="0.50"/>
<rect x="543.00" y="1360.00" width="73.00" height="2.2" fill="#000" fill-opacity="0.10"/>
<rect x="543.00" y="1399.00" width="73.00" height="2.0" fill="#000" fill-opacity="0.08"/>
<rect x="609.40" y="1362.00" width="3.0" height="38.00" fill="#b3b8d0" fill-opacity="0.85"/>
<rect x="543.00" y="1361.50" width="3.0" height="39.00" fill="#3d4b5e"/>
<rect x="613.00" y="1361.50" width="3.0" height="39.00" fill="#5b5f78"/>
</g></g></g>
<g id="inset-d1">
<rect x="1593.10" y="946.10" width="91.80" height="65.60" fill="#9da7b9"/>
<g clip-path="url(#cd1)"><g filter="url(#soft)">
<rect x="1600.50" y="957.50" width="77.50" height="46.50" fill="none" stroke="#c2bdd2" stroke-opacity="0.35" stroke-width="3"/>
<rect x="1603.00" y="960.00" width="72.50" height="41.50" fill="url(#gd1)"/>
<rect x="1623.00" y="962.00" width="44.00" height="37.00" fill="#9c8494" fill-opacity="0.50"/>
<rect x="1593.10" y="982.00" width="10.00" height="16.00" fill="#9fb5b2" fill-opacity="0.55"/>
<rect x="1603.00" y="960.00" width="72.50" height="2.2" fill="#000" fill-opacity="0.10"/>
<rect x="1603.00" y="999.50" width="72.50" height="2.0" fill="#000" fill-opacity="0.08"/>
<rect x="1668.90" y="962.00" width="3.0" height="38.50" fill="#c2bdd2" fill-opacity="0.85"/>
<rect x="1603.00" y="961.50" width="3.0" height="39.50" fill="#565a6f"/>
<rect x="1672.50" y="961.50" width="3.0" height="39.50" fill="#545770"/>
</g></g></g>
<g id="inset-d2">
<rect x="1502.10" y="1319.10" width="88.80" height="70.70" fill="#9ca8b9"/>
<g clip-path="url(#cd2)"><g filter="url(#soft)">
<rect x="1509.50" y="1329.50" width="77.50" height="48.80" fill="none" stroke="#b3b9cf" stroke-opacity="0.35" stroke-width="3"/>
<rect x="1512.00" y="1332.00" width="72.50" height="43.80" fill="url(#gd2)"/>
<rect x="1502.10" y="1360.00" width="88.80" height="16.00" fill="#a09db8" fill-opacity="0.35"/>
<rect x="1512.00" y="1332.00" width="72.50" height="2.2" fill="#000" fill-opacity="0.10"/>
<rect x="1512.00" y="1373.80" width="72.50" height="2.0" fill="#000" fill-opacity="0.08"/>
<rect x="1577.90" y="1334.00" width="3.0" height="40.80" fill="#b3b9cf" fill-opacity="0.85"/>
<rect x="1512.00" y="1333.50" width="3.0" height="41.80" fill="#5a6075"/>
<rect x="1581.50" y="1333.50" width="3.0" height="41.80" fill="#666b84"/>
</g></g></g>
<text transform="translate(97.8,932) rotate(-90)" font-size="104" text-anchor="middle">Extinction</text>
<text x="1126" y="1769.5" font-size="104" text-anchor="middle" letter-spacing="0">Wavelength (nm)</text>
</svg>
</body>
</html>
